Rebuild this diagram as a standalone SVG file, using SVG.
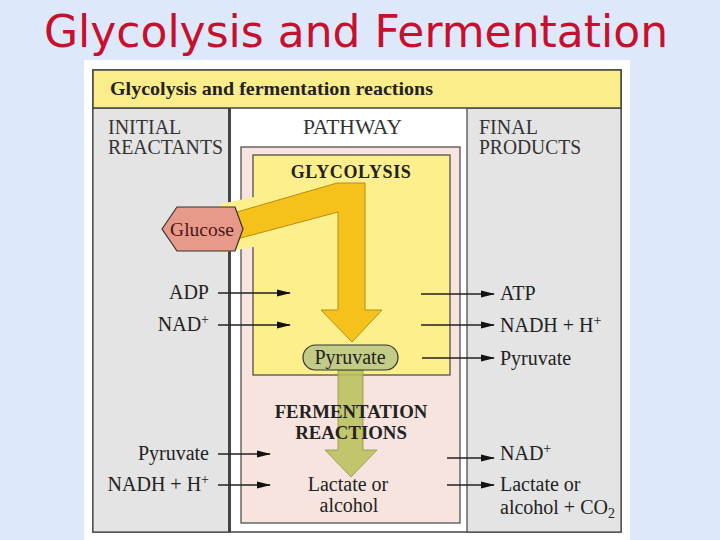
<svg xmlns="http://www.w3.org/2000/svg" width="720" height="540" viewBox="0 0 720 540">
<defs>
<style>
.t{font-family:"Liberation Serif","DejaVu Serif",serif;fill:#222;font-size:20px}
.hd{font-family:"Liberation Serif","DejaVu Serif",serif;fill:#333;font-size:20px}
.b{font-weight:bold}
.sup{font-size:14px}
.ln{stroke:#222;stroke-width:1.3;fill:none}
</style>
<marker id="ah" markerUnits="userSpaceOnUse" markerWidth="14" markerHeight="8" refX="13" refY="4" orient="auto">
<path d="M0,0.5 L14,4 L0,7.5 z" fill="#111"/>
</marker>
</defs>
<rect x="0" y="0" width="720" height="540" fill="#dde9fb"/>
<text x="356" y="47" text-anchor="middle" font-family="DejaVu Sans,Verdana,sans-serif" font-size="44" fill="#c8102e">Glycolysis and Fermentation</text>
<rect x="84" y="60" width="546" height="480" fill="#ffffff"/>

<g id="frame">
<rect x="93" y="70" width="528" height="462" fill="#ffffff" stroke="#444" stroke-width="1.5"/>
<rect x="93" y="108" width="136" height="424" fill="#e4e4e4" stroke="#444" stroke-width="1.2"/>
<line x1="229.5" y1="108" x2="229.5" y2="532" stroke="#444" stroke-width="3"/>
<rect x="467" y="108" width="154" height="424" fill="#e4e4e4" stroke="#444" stroke-width="1.2"/>
</g>
<g id="header">
<rect x="93" y="70" width="528" height="38" fill="#fbee8a" stroke="#444" stroke-width="1.5"/>
<text class="t b" x="110" y="95" style="font-size:19.5px" textLength="323" lengthAdjust="spacingAndGlyphs">Glycolysis and fermentation reactions</text>
</g>
<g id="col-heads">
<text class="hd" x="108" y="134">INITIAL</text>
<text class="hd" x="108" y="154" textLength="115" lengthAdjust="spacingAndGlyphs">REACTANTS</text>
<text class="hd" x="303" y="134" textLength="99" lengthAdjust="spacingAndGlyphs">PATHWAY</text>
<text class="hd" x="479" y="134">FINAL</text>
<text class="hd" x="479" y="154" textLength="102" lengthAdjust="spacingAndGlyphs">PRODUCTS</text>
</g>

<g id="fermentation-box">
<rect x="241" y="147" width="219" height="376" fill="#f7e4df" stroke="#444" stroke-width="1.2"/>
</g>
<g id="glycolysis-box">
<rect x="253" y="155" width="197" height="220" fill="#fdf08c" stroke="#444" stroke-width="1.2"/>
<polygon points="220,204 254,197 254,247 220,253" fill="#fdf08c"/>
<text class="t b" x="351" y="178" text-anchor="middle" style="font-size:18px;letter-spacing:0.6px">GLYCOLYSIS</text>
</g>

<g id="glycolysis-arrow">
<path d="M237,212 L337,183 L365,183 L365,310 L382,310 L352,342 L321,310 L338,310 L338,212 L237,239 Z" fill="#f5c21b" stroke="#b98c10" stroke-width="1"/>
</g>

<g id="glucose">
<polygon points="162,229 177,207 235,207 243,229 235,251 177,251" fill="#e89a8a" stroke="#333" stroke-width="1.2"/>
<text class="t" x="202" y="236" text-anchor="middle" style="font-size:19.5px;fill:#4a1515">Glucose</text>
</g>

<g id="fermentation-arrow">
<path d="M338,370 L363,370 L363,450 L377,450 L351,477 L325,450 L338,450 Z" fill="#b9c25c" stroke="#8f9540" stroke-width="0.8" fill-opacity="0.88"/>
</g>

<g id="pyruvate">
<rect x="303" y="345" width="95" height="25" rx="12.5" fill="#c3cc86" stroke="#333" stroke-width="1.2"/>
<text class="t" x="350" y="364" text-anchor="middle">Pyruvate</text>
</g>

<g id="fermentation-labels">
<text class="t b" x="351" y="418" text-anchor="middle" style="font-size:18.8px">FERMENTATION</text>
<text class="t b" x="351" y="439" text-anchor="middle" style="font-size:18.8px">REACTIONS</text>
<text class="t" x="348" y="491" text-anchor="middle">Lactate or</text>
<text class="t" x="349" y="512" text-anchor="middle">alcohol</text>
</g>

<g id="reactants">
<text class="t" x="209" y="299" text-anchor="end">ADP</text>
<text class="t" x="209" y="331" text-anchor="end">NAD<tspan class="sup" dy="-7">+</tspan></text>
<text class="t" x="209" y="460" text-anchor="end">Pyruvate</text>
<text class="t" x="209" y="491" text-anchor="end">NADH + H<tspan class="sup" dy="-7">+</tspan></text>
</g>

<g id="products">
<text class="t" x="500" y="300">ATP</text>
<text class="t" x="500" y="332">NADH + H<tspan class="sup" dy="-7">+</tspan></text>
<text class="t" x="500" y="365">Pyruvate</text>
<text class="t" x="500" y="460">NAD<tspan class="sup" dy="-7">+</tspan></text>
<text class="t" x="500" y="491">Lactate or</text>
<text class="t" x="500" y="514">alcohol + CO<tspan class="sup" dy="4">2</tspan></text>
</g>

<g id="connectors">
<line class="ln" x1="218" y1="293" x2="290" y2="293" marker-end="url(#ah)"/>
<line class="ln" x1="218" y1="325" x2="290" y2="325" marker-end="url(#ah)"/>
<line class="ln" x1="421" y1="294" x2="494" y2="294" marker-end="url(#ah)"/>
<line class="ln" x1="421" y1="325" x2="494" y2="325" marker-end="url(#ah)"/>
<line class="ln" x1="422" y1="358" x2="494" y2="358" stroke-width="2" marker-end="url(#ah)"/>
<line class="ln" x1="218" y1="454" x2="270" y2="454" marker-end="url(#ah)"/>
<line class="ln" x1="218" y1="485" x2="270" y2="485" marker-end="url(#ah)"/>
<line class="ln" x1="447" y1="458" x2="494" y2="458" marker-end="url(#ah)"/>
<line class="ln" x1="447" y1="485" x2="494" y2="485" marker-end="url(#ah)"/>
</g>
</svg>
